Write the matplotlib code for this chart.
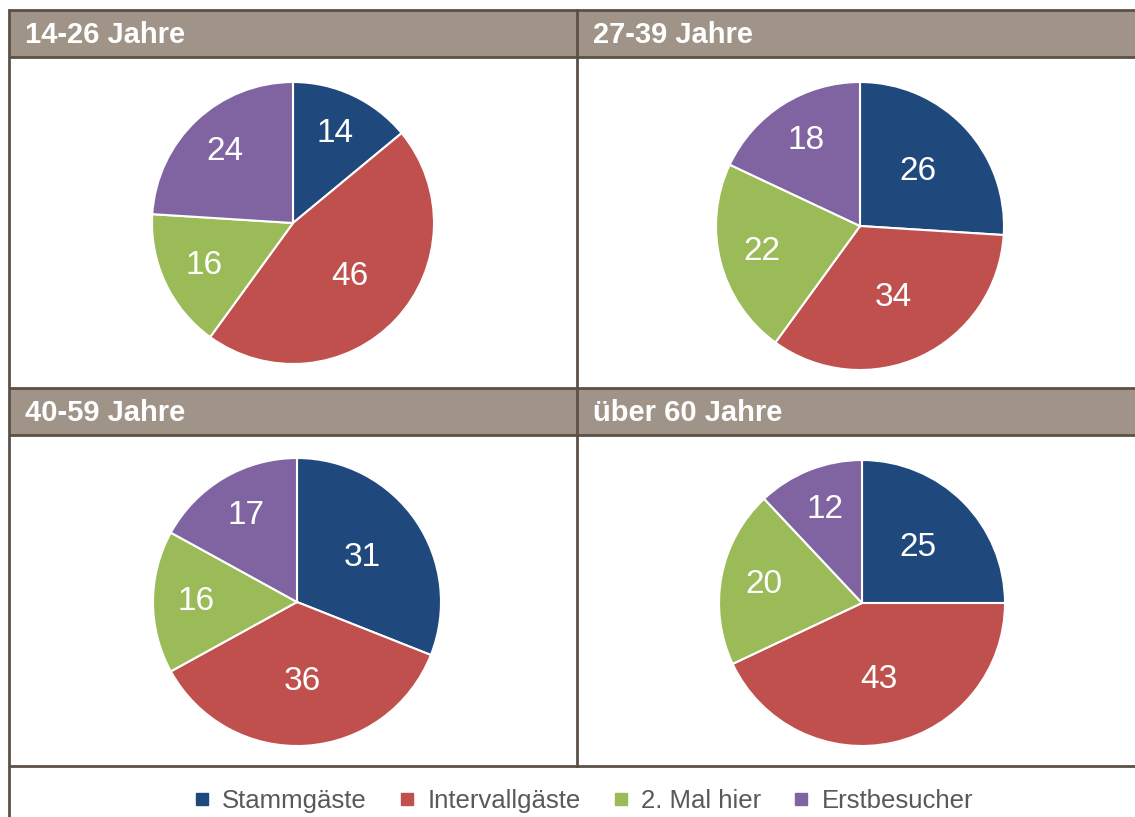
import matplotlib
matplotlib.use("Agg")
import matplotlib.pyplot as plt
from matplotlib.lines import Line2D
from matplotlib.patches import Rectangle
import numpy as np

plt.rcParams["font.family"] = ["Liberation Sans", "DejaVu Sans"]

# data
categories = ["Stammgäste", "Intervallgäste", "2. Mal hier", "Erstbesucher"]
age_groups = ["14-26 Jahre", "27-39 Jahre", "40-59 Jahre", "über 60 Jahre"]
share_14_26 = [14, 46, 16, 24]
share_27_39 = [26, 34, 22, 18]
share_40_59 = [31, 36, 16, 17]
share_60_plus = [25, 43, 20, 12]

colors = ["#1F497D", "#C0504D", "#9BBB59", "#8064A2"]
HEADER = "#A09488"
BORDER = "#5B5046"

W, H = 1135, 817
fig = plt.figure(figsize=(W / 100, H / 100), dpi=100)

# table grid in pixel coords
bg = fig.add_axes([0, 0, 1, 1])
bg.set_xlim(0, W)
bg.set_ylim(H, 0)
bg.axis("off")
for top in (10, 388):
    bg.add_patch(Rectangle((9, top), W, 47, facecolor=HEADER, edgecolor="none"))
lw = 2.0
for y in (10, 57, 388, 435, 766):
    bg.plot([9, W], [y, y], color=BORDER, lw=lw, solid_capstyle="butt")
bg.plot([9, 9], [10, H], color=BORDER, lw=lw)
bg.plot([577, 577], [10, 766], color=BORDER, lw=lw)

header_pos = [(25, 35), (593, 35), (25, 413), (593, 413)]
for (x, y), name in zip(header_pos, age_groups):
    bg.text(x, y, name, color="white", fontsize=21, fontweight="bold",
            va="center", ha="left")

# pies: center x, center y, radius in pixels
pie_geo = [(293, 223, 141), (860, 226, 144), (297, 602, 144), (862, 603, 143)]
series = [share_14_26, share_27_39, share_40_59, share_60_plus]

for (cx, cy, r), vals in zip(pie_geo, series):
    ax = fig.add_axes([(cx - r) / W, (H - cy - r) / H, 2 * r / W, 2 * r / H])
    wedges, _ = ax.pie(vals, colors=colors, startangle=90, counterclock=False,
                       radius=1, wedgeprops=dict(edgecolor="white", linewidth=1.5))
    ax.set_xlim(-1, 1)
    ax.set_ylim(-1, 1)
    ax.set_aspect("equal")
    ax.axis("off")
    for w, v in zip(wedges, vals):
        ang = np.deg2rad((w.theta1 + w.theta2) / 2)
        d = 0.55 if v > 24 else 0.70
        ax.text(d * np.cos(ang), d * np.sin(ang), str(v), color="white",
                fontsize=24, ha="center", va="center")

handles = [Line2D([], [], marker="s", linestyle="none", markersize=8,
                  markerfacecolor=c, markeredgecolor=c) for c in colors]
fig.legend(handles, categories, loc="center", bbox_to_anchor=(581 / W, 1 - 801 / H),
           ncol=4, frameon=False, fontsize=18.5, handletextpad=0.3,
           columnspacing=1.05, handlelength=1.0, labelcolor="#595959")

fig.savefig("out.png", dpi=100)
